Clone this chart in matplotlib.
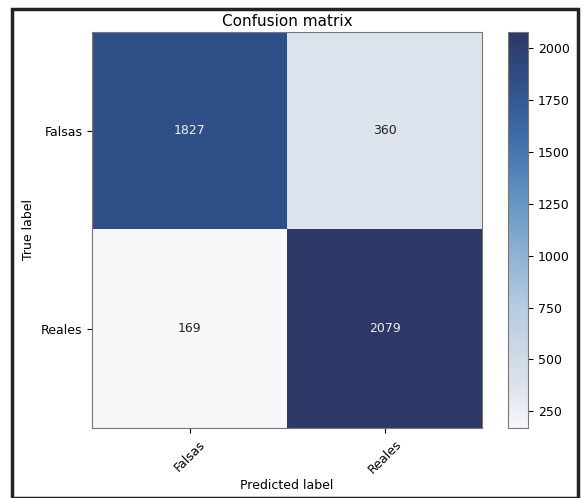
import numpy as np
import matplotlib
matplotlib.use("Agg")
import matplotlib.pyplot as plt
from matplotlib.colors import LinearSegmentedColormap
from matplotlib.patches import Rectangle

classes = ["Falsas", "Reales"]
cm = np.array([[1827, 360],
               [169, 2079]])

# blue ramp, light grey-white to navy
blues = LinearSegmentedColormap.from_list("blues_navy", [
    (0.00, "#f7f7f9"),
    (0.10, "#dde3ec"),
    (0.30, "#b8cbe1"),
    (0.45, "#8ab0d4"),
    (0.58, "#6094c4"),
    (0.72, "#3f70ac"),
    (0.87, "#305089"),
    (1.00, "#2d3866"),
])

fig = plt.figure(figsize=(5.83, 4.98), dpi=100)
ax = fig.add_axes([92/583, 70/498, 390/583, 396/498])
cax = fig.add_axes([508/583, 70/498, 20/583, 396/498])

im = ax.imshow(cm, interpolation="nearest", cmap=blues, aspect="auto",
               vmin=cm.min(), vmax=cm.max())
ax.set_title("Confusion matrix", fontsize=11, pad=4)
cb = fig.colorbar(im, cax=cax)
cb.set_ticks([250, 500, 750, 1000, 1250, 1500, 1750, 2000])
cb.ax.tick_params(labelsize=9)

ticks = np.arange(len(classes))
ax.set_xticks(ticks)
ax.set_xticklabels(classes, rotation=45, fontsize=9)
ax.set_yticks(ticks)
ax.set_yticklabels(classes, fontsize=9)

thresh = cm.max() / 2.
for i in range(cm.shape[0]):
    for j in range(cm.shape[1]):
        ax.text(j, i, format(cm[i, j], "d"), ha="center", va="center",
                fontsize=9, color="#eeeeee" if cm[i, j] > thresh else "#222222")

ax.set_ylabel("True label", fontsize=9)
ax.set_xlabel("Predicted label", fontsize=9, labelpad=2)

for a in (ax, cax):
    for s in a.spines.values():
        s.set_color("#777777")

# frame around the whole figure
fig.patches.append(Rectangle((12/583, 0), 566/583, 489/498, transform=fig.transFigure,
                             fill=False, edgecolor="#222222", linewidth=2.5))

fig.savefig("out.png", dpi=100)
